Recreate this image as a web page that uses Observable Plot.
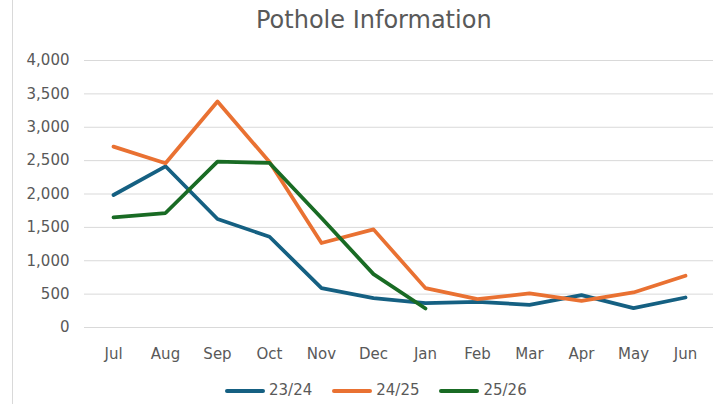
<!DOCTYPE html>
<html>
<head>
<meta charset="utf-8">
<script src="https://cdn.jsdelivr.net/npm/d3@7"></script>
<script src="https://cdn.jsdelivr.net/npm/@observablehq/plot@0.6"></script>
<style>
  html, body { margin: 0; padding: 0; background: #fff; }
  #wrap { position: relative; width: 724px; height: 404px; overflow: hidden; background: #fff;
          font-family: "DejaVu Sans", sans-serif; color: #595959; }
  #border { position: absolute; left: 12px; top: 0; width: 1px; height: 404px; background: #d9d9d9; }
  #title { position: absolute; left: 256px; top: 8px; font-size: 24px; line-height: 24px; color: #595959; white-space: nowrap; }
  #chart { position: absolute; left: 0; top: 0; }
  #legend { position: absolute; top: 383px; left: 225px; display: flex; align-items: center; font-size: 15px; line-height: 15px; color: #595959; }
  .item { display: flex; align-items: center; margin-right: 20px; }
  .sw { width: 40px; height: 4px; border-radius: 2px; margin-right: 4px; }
</style>
</head>
<body>
<div id="wrap">
  <div id="border"></div>
  <div id="chart"></div>
  <div id="title">Pothole Information</div>
  <div id="legend"></div>
</div>
<script>
const months = ["Jul","Aug","Sep","Oct","Nov","Dec","Jan","Feb","Mar","Apr","May","Jun"];
const seriesNames = ["23/24","24/25","25/26"];
const colors = ["#156082","#E97132","#196B24"];
const s2324 = [1985, 2415, 1625, 1360, 590, 440, 365, 385, 340, 485, 290, 450];
const s2425 = [2710, 2460, 3385, 2480, 1265, 1470, 590, 425, 510, 400, 525, 775];
const s2526 = [1650, 1715, 2485, 2465, 1640, 800, 285];
const yTicks = [0, 500, 1000, 1500, 2000, 2500, 3000, 3500, 4000];

const data = [];
[s2324, s2425, s2526].forEach((arr, i) => {
  arr.forEach((v, j) => data.push({series: seriesNames[i], month: months[j], value: v}));
});

const fmt = d3.format(",");

const chart = Plot.plot({
  width: 724,
  height: 370,
  marginLeft: 84,
  marginRight: 11,
  marginTop: 60,
  marginBottom: 43,
  style: {fontFamily: '"DejaVu Sans", sans-serif', fontSize: "15px", color: "#595959", background: "transparent"},
  x: {type: "point", domain: months, padding: 0.5, label: null},
  y: {domain: [0, 4000], label: null},
  color: {domain: seriesNames, range: colors},
  marks: [
    Plot.ruleY(yTicks, {stroke: "#d9d9d9", strokeWidth: 1}),
    Plot.axisY({ticks: yTicks, tickSize: 0, tickPadding: 15, tickFormat: fmt, fill: "#595959", fontSize: 15, label: null}),
    Plot.axisX({tickSize: 0, tickPadding: 21, fill: "#595959", fontSize: 15, label: null}),
    Plot.line(data, {x: "month", y: "value", z: "series", stroke: "series", strokeWidth: 3.75, strokeLinejoin: "round", strokeLinecap: "round", curve: "linear"})
  ]
});
document.getElementById("chart").appendChild(chart);

const legend = document.getElementById("legend");
seriesNames.forEach((n, i) => {
  const it = document.createElement("div");
  it.className = "item";
  const sw = document.createElement("div");
  sw.className = "sw";
  sw.style.background = colors[i];
  const t = document.createElement("span");
  t.textContent = n;
  it.appendChild(sw); it.appendChild(t);
  legend.appendChild(it);
});
</script>
</body>
</html>
